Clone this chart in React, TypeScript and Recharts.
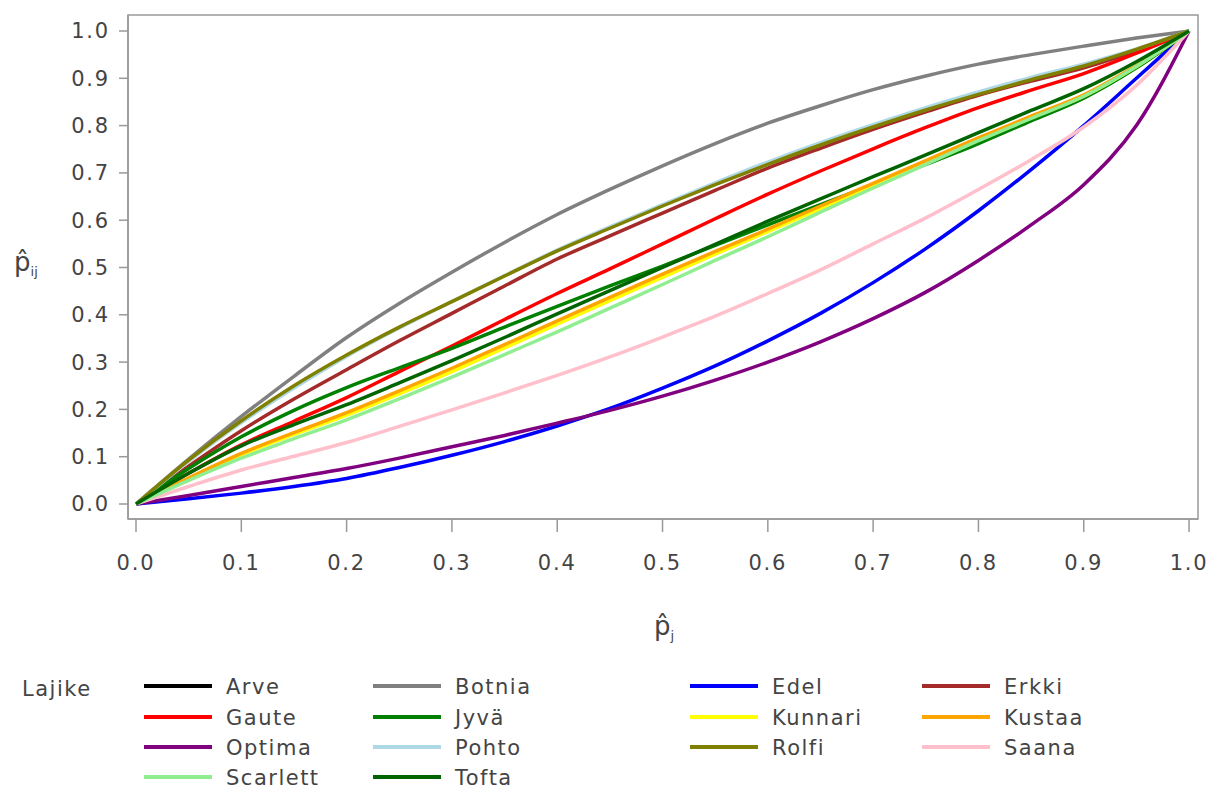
import React from "react";
import { LineChart, Line, XAxis, YAxis, ReferenceArea } from "recharts";

// x positions (p̂_j) at which curves were read
const xValues = [
  0, 0.05, 0.1, 0.15, 0.2, 0.25, 0.3, 0.35, 0.4, 0.45, 0.5,
  0.55, 0.6, 0.65, 0.7, 0.75, 0.8, 0.85, 0.9, 0.95, 1,
];

// series values (p̂_ij)
const arve = [
  null, null, null, null, null, null, null, null, null, null, null,
  null, null, null, null, null, null, null, null, null, null,
];
const botnia = [0, 0.095, 0.185, 0.27, 0.352, 0.424, 0.49, 0.553, 0.612, 0.665, 0.715, 0.762, 0.805, 0.842, 0.876, 0.905, 0.93, 0.95, 0.968, 0.985, 1];
const edel = [0, 0.011, 0.023, 0.037, 0.054, 0.077, 0.103, 0.132, 0.165, 0.202, 0.245, 0.292, 0.345, 0.403, 0.468, 0.54, 0.62, 0.707, 0.8, 0.9, 1];
const erkki = [0, 0.08, 0.155, 0.222, 0.284, 0.345, 0.403, 0.461, 0.518, 0.567, 0.615, 0.663, 0.71, 0.752, 0.792, 0.829, 0.864, 0.894, 0.922, 0.958, 1];
const gaute = [0, 0.065, 0.125, 0.175, 0.225, 0.28, 0.334, 0.39, 0.445, 0.497, 0.55, 0.603, 0.655, 0.704, 0.751, 0.796, 0.838, 0.875, 0.91, 0.953, 1];
const jyva = [0, 0.075, 0.142, 0.198, 0.246, 0.288, 0.329, 0.374, 0.418, 0.461, 0.503, 0.547, 0.59, 0.633, 0.675, 0.718, 0.762, 0.81, 0.858, 0.922, 1];
const kunnari = [0, 0.053, 0.104, 0.147, 0.188, 0.233, 0.28, 0.33, 0.38, 0.43, 0.479, 0.528, 0.576, 0.625, 0.674, 0.722, 0.77, 0.817, 0.862, 0.925, 1];
const kustaa = [0, 0.055, 0.107, 0.151, 0.193, 0.239, 0.287, 0.337, 0.387, 0.437, 0.486, 0.534, 0.581, 0.63, 0.678, 0.726, 0.774, 0.82, 0.865, 0.927, 1];
const optima = [0, 0.018, 0.037, 0.056, 0.075, 0.097, 0.121, 0.145, 0.171, 0.198, 0.228, 0.262, 0.3, 0.343, 0.392, 0.448, 0.515, 0.59, 0.675, 0.8, 1];
const pohto = [0, 0.09, 0.172, 0.245, 0.312, 0.372, 0.428, 0.483, 0.537, 0.586, 0.633, 0.679, 0.723, 0.764, 0.802, 0.838, 0.871, 0.902, 0.93, 0.962, 1];
const rolfi = [0, 0.093, 0.176, 0.25, 0.315, 0.374, 0.428, 0.482, 0.535, 0.583, 0.63, 0.675, 0.718, 0.759, 0.797, 0.833, 0.866, 0.897, 0.926, 0.961, 1];
const saana = [0, 0.037, 0.072, 0.101, 0.13, 0.164, 0.199, 0.235, 0.272, 0.311, 0.353, 0.397, 0.445, 0.495, 0.55, 0.605, 0.665, 0.728, 0.797, 0.885, 1];
const scarlett = [0, 0.05, 0.097, 0.138, 0.178, 0.222, 0.268, 0.316, 0.364, 0.414, 0.464, 0.515, 0.565, 0.617, 0.668, 0.718, 0.768, 0.815, 0.862, 0.925, 1];
const tofta = [0, 0.065, 0.123, 0.168, 0.21, 0.256, 0.303, 0.352, 0.402, 0.451, 0.5, 0.549, 0.598, 0.645, 0.692, 0.738, 0.785, 0.832, 0.878, 0.935, 1];

const cultivars = [
  "Arve", "Botnia", "Edel", "Erkki", "Gaute", "Jyvä", "Kunnari",
  "Kustaa", "Optima", "Pohto", "Rolfi", "Saana", "Scarlett", "Tofta",
];
const colors = [
  "#000000", "#808080", "#0000FF", "#A52A2A", "#FF0000", "#008000", "#FFFF00",
  "#FFA500", "#800080", "#ADD8E6", "#808000", "#FFC0CB", "#90EE90", "#006400",
];
const seriesValues = [
  arve, botnia, edel, erkki, gaute, jyva, kunnari,
  kustaa, optima, pohto, rolfi, saana, scarlett, tofta,
];

const xTicks = [0, 0.1, 0.2, 0.3, 0.4, 0.5, 0.6, 0.7, 0.8, 0.9, 1];
const yTicks = [0, 0.1, 0.2, 0.3, 0.4, 0.5, 0.6, 0.7, 0.8, 0.9, 1];
const legendTitle = "Lajike";

const rows = xValues.map((x, i) => {
  const r: Record<string, number | null> = { x };
  cultivars.forEach((c, k) => {
    r[c] = seriesValues[k][i];
  });
  return r;
});

const FONT = "'DejaVu Sans', sans-serif";
const TEXT = "#444";
const AXIS = "#999";

const X_DOMAIN: [number, number] = [-0.0076, 1.0085];
const Y_DOMAIN: [number, number] = [-0.0317, 1.0338];

// legend layout (4 columns, filled row-wise)
const colLineX = [144, 373, 690, 922];
const rowY = [686, 717, 747, 777];

export default function App() {
  return (
    <div style={{ position: "absolute", left: 0, top: 0, width: 1207, height: 791, background: "#fff" }}>
      <LineChart
        width={1207}
        height={791}
        data={rows}
        margin={{ top: 15, right: 9, left: 0, bottom: 222 }}
      >
        <XAxis
          dataKey="x"
          type="number"
          domain={X_DOMAIN}
          ticks={xTicks}
          allowDataOverflow
          height={50}
          tickSize={13}
          tickMargin={23}
          tickFormatter={(v: number) => v.toFixed(1)}
          axisLine={{ stroke: AXIS, strokeWidth: 1.5 }}
          tickLine={{ stroke: AXIS, strokeWidth: 1.5 }}
          tick={{ fill: TEXT, fontSize: 21, fontFamily: FONT, letterSpacing: 1.8 }}
        />
        <YAxis
          type="number"
          domain={Y_DOMAIN}
          ticks={yTicks}
          allowDataOverflow
          width={128}
          tickSize={9}
          tickMargin={9}
          tickFormatter={(v: number) => v.toFixed(1)}
          axisLine={{ stroke: AXIS, strokeWidth: 1.5 }}
          tickLine={{ stroke: AXIS, strokeWidth: 1.5 }}
          tick={{ fill: TEXT, fontSize: 21, fontFamily: FONT, letterSpacing: 1.8 }}
        />
        <ReferenceArea
          x1={X_DOMAIN[0]}
          x2={X_DOMAIN[1]}
          y1={Y_DOMAIN[0]}
          y2={Y_DOMAIN[1]}
          fill="none"
          fillOpacity={0}
          stroke={AXIS}
          strokeWidth={1.5}
        />
        {cultivars.map((c, k) => (
          <Line
            key={c}
            dataKey={c}
            type="monotone"
            stroke={colors[k]}
            strokeWidth={3.5}
            dot={false}
            activeDot={false}
            isAnimationActive={false}
            connectNulls={false}
          />
        ))}
      </LineChart>
      <svg
        width={1207}
        height={791}
        style={{ position: "absolute", left: 0, top: 0, pointerEvents: "none" }}
        fontFamily={FONT}
      >
        {/* axis titles */}
        <text x={14} y={271} fontSize={26} fill={TEXT}>
          p̂<tspan fontSize={13} dy={5}>ij</tspan>
        </text>
        <text x={654} y={635} fontSize={26} fill={TEXT}>
          p̂<tspan fontSize={13} dy={5}>j</tspan>
        </text>
        {/* legend */}
        <text x={22} y={696} fontSize={21} fill={TEXT} letterSpacing={1.5}>
          {legendTitle}
        </text>
        {cultivars.map((c, k) => {
          const col = k % 4;
          const row = Math.floor(k / 4);
          const lx = colLineX[col];
          const ly = rowY[row];
          return (
            <g key={c}>
              <line x1={lx} x2={lx + 68} y1={ly} y2={ly} stroke={colors[k]} strokeWidth={4} />
              <text x={lx + 82} y={ly + 8} fontSize={21} fill={TEXT} letterSpacing={1.5}>
                {c}
              </text>
            </g>
          );
        })}
      </svg>
    </div>
  );
}
